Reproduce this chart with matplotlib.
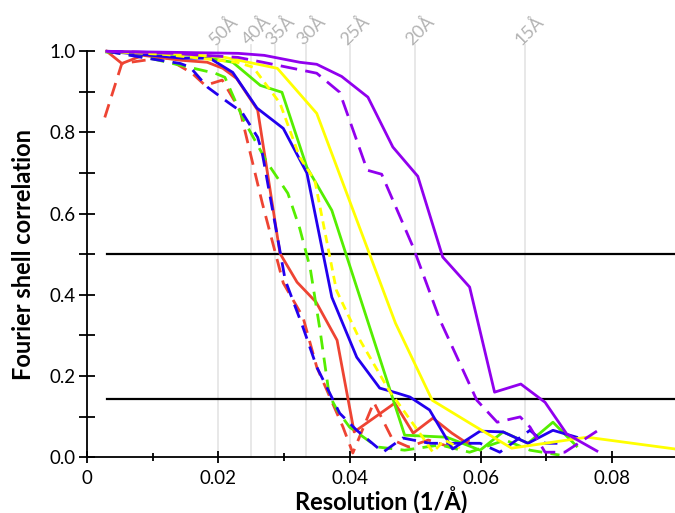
#FSC curves for several reconstructions

import numpy as np
import matplotlib.pyplot as plt
from matplotlib.ticker import MultipleLocator

plt.rcParams['font.family'] = ['Lato', 'DejaVu Sans']

red_x = [0.003, 0.0053, 0.0085, 0.0142, 0.0183, 0.0207, 0.0228, 0.026, 0.0294, 0.032, 0.0349, 0.0381, 0.0407, 0.0469, 0.0497, 0.0527, 0.0556, 0.0583]
red_y = [1.0, 0.970, 0.99, 0.978, 0.973, 0.958, 0.933, 0.855, 0.502, 0.431, 0.382, 0.288, 0.062, 0.133, 0.059, 0.096, 0.059, 0.03]
red_dash_x = [0.0027, 0.0053, 0.0119, 0.016, 0.018, 0.0206, 0.0233, 0.0267, 0.0299, 0.0329, 0.035, 0.039, 0.0405, 0.0437, 0.0466, 0.049, 0.052, 0.0553, 0.0583]
red_dash_y = [0.837, 0.970, 0.985, 0.946, 0.916, 0.929, 0.855, 0.626, 0.429, 0.345, 0.222, 0.074, 0.01, 0.135, 0.042, 0.025, 0.042, 0.025, 0.042]

green_x = [0.003, 0.010, 0.016, 0.0222, 0.0264, 0.0297, 0.0335, 0.0373, 0.0484, 0.0548, 0.0599, 0.0634, 0.0672, 0.071, 0.0746]
green_y = [0.998, 0.995, 0.99, 0.973, 0.916, 0.899, 0.714, 0.608, 0.054, 0.049, 0.017, 0.062, 0.034, 0.086, 0.027]
green_dash_x = [0.003, 0.009, 0.0149, 0.0195, 0.021, 0.0238, 0.0274, 0.0306, 0.0324, 0.034, 0.0355, 0.0369, 0.0381, 0.040, 0.0442, 0.0484, 0.0538, 0.0583, 0.0637, 0.0675, 0.072]
green_dash_y = [1.0, 0.985, 0.963, 0.946, 0.936, 0.833, 0.727, 0.650, 0.564, 0.466, 0.313, 0.153, 0.116, 0.074, 0.025, 0.017, 0.030, 0.012, 0.042, 0.017, 0.005]

blue_x = [0.003, 0.0146, 0.0187, 0.0222, 0.0259, 0.0299, 0.0335, 0.0373, 0.0411, 0.0446, 0.0472, 0.0492, 0.0522, 0.0557, 0.0599, 0.0634, 0.0672, 0.071, 0.0746]
blue_y = [1.0, 0.983, 0.983, 0.948, 0.860, 0.810, 0.700, 0.394, 0.246, 0.170, 0.158, 0.148, 0.116, 0.020, 0.064, 0.062, 0.034, 0.066, 0.049]
blue_dash_x = [0.003, 0.0091, 0.0142, 0.0157, 0.0184, 0.0215, 0.0236, 0.026, 0.0267, 0.0302, 0.0329, 0.035, 0.0385, 0.0411, 0.0451, 0.0481, 0.0522, 0.0564, 0.0599, 0.0629, 0.0675, 0.0698, 0.0728]
blue_dash_y = [1.0, 0.983, 0.970, 0.961, 0.911, 0.874, 0.850, 0.788, 0.749, 0.436, 0.320, 0.222, 0.108, 0.066, 0.012, 0.047, 0.034, 0.034, 0.034, 0.012, 0.066, 0.034, 0.034]

yellow_x = [0.003, 0.009, 0.015, 0.021, 0.029, 0.035, 0.047, 0.0526, 0.0588, 0.0647, 0.0762, 0.0896]
yellow_y = [1.0, 0.997, 0.993, 0.985, 0.958, 0.847, 0.330, 0.140, 0.079, 0.022, 0.049, 0.020]
yellow_dash_x = [0.003, 0.012, 0.0228, 0.0253, 0.0294, 0.0324, 0.0347, 0.038, 0.0416, 0.046, 0.0507, 0.0527, 0.0545, 0.0568]
yellow_dash_y = [1.0, 0.992, 0.973, 0.961, 0.872, 0.739, 0.682, 0.411, 0.288, 0.165, 0.059, 0.012, 0.042, 0.022]

purple_x = [0.003, 0.007, 0.011, 0.015, 0.019, 0.023, 0.027, 0.0324, 0.035, 0.0388, 0.0428, 0.0466, 0.0504, 0.0542, 0.0583, 0.0621, 0.0661, 0.0698, 0.0731, 0.0777]
purple_y = [1.0, 0.999, 0.998, 0.997, 0.996, 0.995, 0.99, 0.973, 0.968, 0.938, 0.887, 0.764, 0.692, 0.493, 0.419, 0.160, 0.180, 0.135, 0.057, 0.015]
purple_dash_x = [0.003, 0.008, 0.013, 0.018, 0.023, 0.0268, 0.035, 0.0385, 0.0427, 0.0449, 0.0497, 0.0538, 0.0594, 0.0625, 0.066, 0.0675, 0.0698, 0.0728, 0.0777]
purple_dash_y = [1.0, 0.998, 0.995, 0.99, 0.985, 0.973, 0.946, 0.899, 0.707, 0.697, 0.517, 0.337, 0.140, 0.086, 0.099, 0.074, 0.012, 0.012, 0.064]

res_angstrom = [50, 40, 35, 30, 25, 20, 15]
thresholds = [0.5, 0.143]

fig = plt.figure(figsize=(6.75, 5.13), dpi=100)
ax = fig.add_axes([0.129, 0.109, 0.871, 0.791])

#resolution guide lines
for r in res_angstrom:
    ax.plot([1.0 / r, 1.0 / r], [0, 1.015], color="#e6e6e6", lw=1.3, zorder=0, clip_on=False)
    ax.text(1.0 / r - 0.0001, 1.008, "%dÅ" % r, color="#b3b3b3", fontsize=13,
            rotation=45, rotation_mode="anchor", ha="left", va="bottom")

for t in thresholds:
    ax.plot([0.003, 0.0896], [t, t], color="black", lw=1.6, zorder=1)

red = "#ee4433"
green = "#55ee00"
blue = "#2200ee"
yellow = "#ffff00"
purple = "#9100ee"
lw = 2.0

ax.plot(red_dash_x, red_dash_y, color=red, lw=lw, dashes=(5, 3), clip_on=False)
ax.plot(red_x, red_y, color=red, lw=lw, clip_on=False)
ax.plot(green_dash_x, green_dash_y, color=green, lw=lw, dashes=(5, 3), clip_on=False)
ax.plot(green_x, green_y, color=green, lw=lw, clip_on=False)
ax.plot(blue_dash_x, blue_dash_y, color=blue, lw=lw, dashes=(5, 3), clip_on=False)
ax.plot(blue_x, blue_y, color=blue, lw=lw, clip_on=False)
ax.plot(yellow_dash_x, yellow_dash_y, color=yellow, lw=lw, dashes=(3, 2), clip_on=False)
ax.plot(yellow_x, yellow_y, color=yellow, lw=lw, clip_on=False)
ax.plot(purple_dash_x, purple_dash_y, color=purple, lw=lw, dashes=(6, 3), clip_on=False)
ax.plot(purple_x, purple_y, color=purple, lw=lw, clip_on=False)

ax.set_xlim(0, 0.0896)
ax.set_ylim(0, 1.0)
ax.spines["top"].set_visible(False)
ax.spines["right"].set_visible(False)
ax.spines["left"].set_linewidth(1.3)
ax.spines["bottom"].set_linewidth(1.3)

ax.xaxis.set_minor_locator(MultipleLocator(0.01))
ax.yaxis.set_minor_locator(MultipleLocator(0.1))
ax.set_xticks([0, 0.02, 0.04, 0.06, 0.08])
ax.set_xticklabels(["0", "0.02", "0.04", "0.06", "0.08"])
ax.set_yticks([0, 0.2, 0.4, 0.6, 0.8, 1.0])
ax.set_yticklabels(["0.0", "0.2", "0.4", "0.6", "0.8", "1.0"])
ax.tick_params(axis="both", which="major", direction="inout", labelsize=13.5, width=1.3)
ax.tick_params(axis="x", which="major", length=9, pad=5)
ax.tick_params(axis="x", which="minor", direction="inout", length=6, width=1.3)
ax.tick_params(axis="y", which="major", length=11, pad=3)
ax.tick_params(axis="y", which="minor", direction="inout", length=11, width=1.3)

ax.set_xlabel("Resolution (1/Å)", fontsize=17, fontweight="bold")
ax.set_ylabel("Fourier shell correlation", fontsize=17, fontweight="bold")
ax.xaxis.set_label_coords(0.5, -0.072)
ax.yaxis.set_label_coords(-0.088, 0.5)

plt.savefig("out.png", dpi=100)
